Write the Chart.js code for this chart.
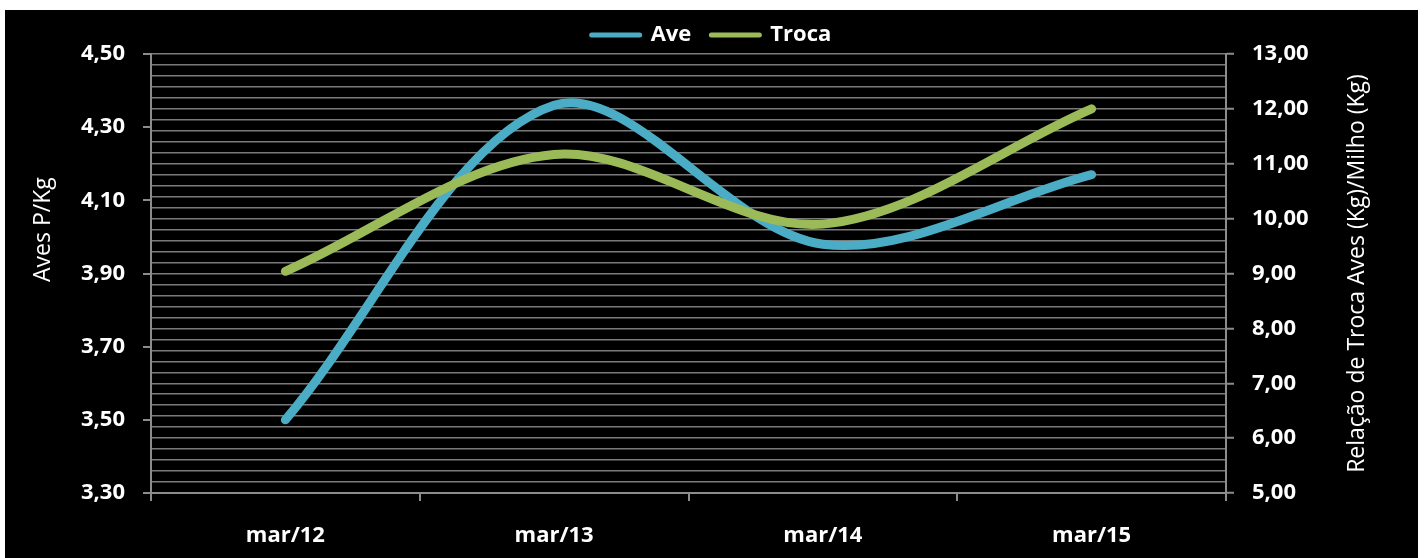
<!DOCTYPE html>
<html>
<head>
<meta charset="utf-8">
<script src="https://cdn.jsdelivr.net/npm/chart.js@4"></script>
<style>
  html, body { margin: 0; padding: 0; background: #ffffff; }
  #wrap { position: absolute; left: 5px; top: 10px; width: 1413px; height: 548px; background: #000000; }
</style>
</head>
<body>
<div id="wrap"><canvas id="troca_chart"></canvas></div>
<script>
// categories and series
var periods = ['mar/12', 'mar/13', 'mar/14', 'mar/15'];
var ave_values = [3.50, 4.36, 3.98, 4.17];     // Aves P/Kg (left axis)
var troca_values = [9.04, 11.17, 9.90, 12.00]; // relação de troca (right axis)

// axis ranges
var ave_axis = [3.30, 4.50, 0.20];
var troca_axis = [5, 13, 0.2];

var grid_color = '#7a7a7a';
var axis_color = '#8c8c8c';
var font_family = "'Open Sans', sans-serif";

function fmt(v) {
  return v.toFixed(2).replace('.', ',');
}

function isWhole(v) {
  return Math.abs(v - Math.round(v)) < 1e-6;
}

// axis titles, both read bottom to top
var axisTitles = {
  id: 'axisTitles',
  afterDraw: function (chart) {
    var ctx = chart.ctx;
    var area = chart.chartArea;
    ctx.save();
    ctx.fillStyle = '#ffffff';
    ctx.font = '23px ' + font_family;
    ctx.textAlign = 'center';
    ctx.textBaseline = 'middle';

    ctx.save();
    ctx.translate(chart.scales.y.left + 38, area.top + (area.bottom - area.top) * 0.40);
    ctx.rotate(-Math.PI / 2);
    ctx.fillText('Aves P/Kg', 0, 0);
    ctx.restore();

    ctx.save();
    ctx.translate(chart.scales.y1.right - 61, area.top + (area.bottom - area.top) * 0.5);
    ctx.rotate(-Math.PI / 2);
    ctx.fillText('Relação de Troca Aves (Kg)/Milho (Kg)', 0, 0);
    ctx.restore();

    ctx.restore();
  }
};

// fixed legend band height
var legendBand = {
  id: 'legendBand',
  beforeInit: function (chart) {
    var fit = chart.legend.fit;
    chart.legend.fit = function () {
      fit.call(this);
      this.height = 50;
    };
  }
};

var ctx = document.getElementById('troca_chart').getContext('2d');
var troca_chart = new Chart(ctx, {
  type: 'line',
  data: {
    labels: periods,
    datasets: [{
      label: 'Ave',
      data: ave_values,
      yAxisID: 'y',
      borderColor: '#4bacc6',
      backgroundColor: '#4bacc6',
      order: 1
    }, {
      label: 'Troca',
      data: troca_values,
      yAxisID: 'y1',
      borderColor: '#9bbb59',
      backgroundColor: '#9bbb59',
      order: 0
    }]
  },
  options: {
    responsive: true,
    maintainAspectRatio: false,
    animation: false,
    layout: { padding: { top: -6 } },
    font: { family: font_family },
    elements: {
      line: { borderWidth: 9, tension: 0.33, borderCapStyle: 'round', borderJoinStyle: 'round' },
      point: { radius: 0, hoverRadius: 0 }
    },
    plugins: {
      tooltip: { enabled: false },
      legend: {
        position: 'top',
        labels: {
          color: '#ffffff',
          font: { family: font_family, size: 22, weight: 'bold' },
          usePointStyle: true,
          pointStyle: 'line',
          pointStyleWidth: 48,
          padding: 20,
          sort: function (a, b) { return a.datasetIndex - b.datasetIndex; },
          generateLabels: function (chart) {
            var items = Chart.defaults.plugins.legend.labels.generateLabels(chart);
            items.forEach(function (item) {
              item.lineWidth = 5;
              item.lineCap = 'round';
            });
            return items;
          }
        }
      }
    },
    scales: {
      x: {
        type: 'category',
        offset: true,
        afterFit: function (scale) { scale.height = 65; },
        grid: {
          offset: true,
          drawOnChartArea: false,
          color: axis_color,
          tickLength: 8,
          lineWidth: 2
        },
        border: { color: axis_color, width: 2 },
        ticks: {
          color: '#ffffff',
          padding: 22,
          maxRotation: 0,
          font: { family: font_family, size: 22, weight: 'bold' }
        }
      },
      y: {
        position: 'left',
        min: ave_axis[0],
        max: ave_axis[1],
        afterFit: function (scale) { scale.width = 146; },
        grid: {
          drawOnChartArea: false,
          color: axis_color,
          tickLength: 8,
          lineWidth: 2
        },
        border: { color: axis_color, width: 2 },
        ticks: {
          stepSize: ave_axis[2],
          autoSkip: false,
          color: '#ffffff',
          padding: 18,
          font: { family: font_family, size: 22, weight: 'bold' },
          callback: function (v) { return fmt(v); }
        }
      },
      y1: {
        position: 'right',
        min: troca_axis[0],
        max: troca_axis[1],
        afterFit: function (scale) { scale.width = 192; },
        grid: {
          drawOnChartArea: true,
          color: grid_color,
          lineWidth: 1.5,
          tickLength: 8,
          tickWidth: 2,
          tickColor: function (c) {
            return c.tick && isWhole(c.tick.value) ? axis_color : 'rgba(0,0,0,0)';
          }
        },
        border: { color: axis_color, width: 2 },
        ticks: {
          stepSize: troca_axis[2],
          autoSkip: false,
          color: '#ffffff',
          padding: 18,
          font: { family: font_family, size: 22, weight: 'bold' },
          callback: function (v) { return isWhole(v) ? fmt(v) : ''; }
        }
      }
    }
  },
  plugins: [axisTitles, legendBand]
});
</script>
</body>
</html>
